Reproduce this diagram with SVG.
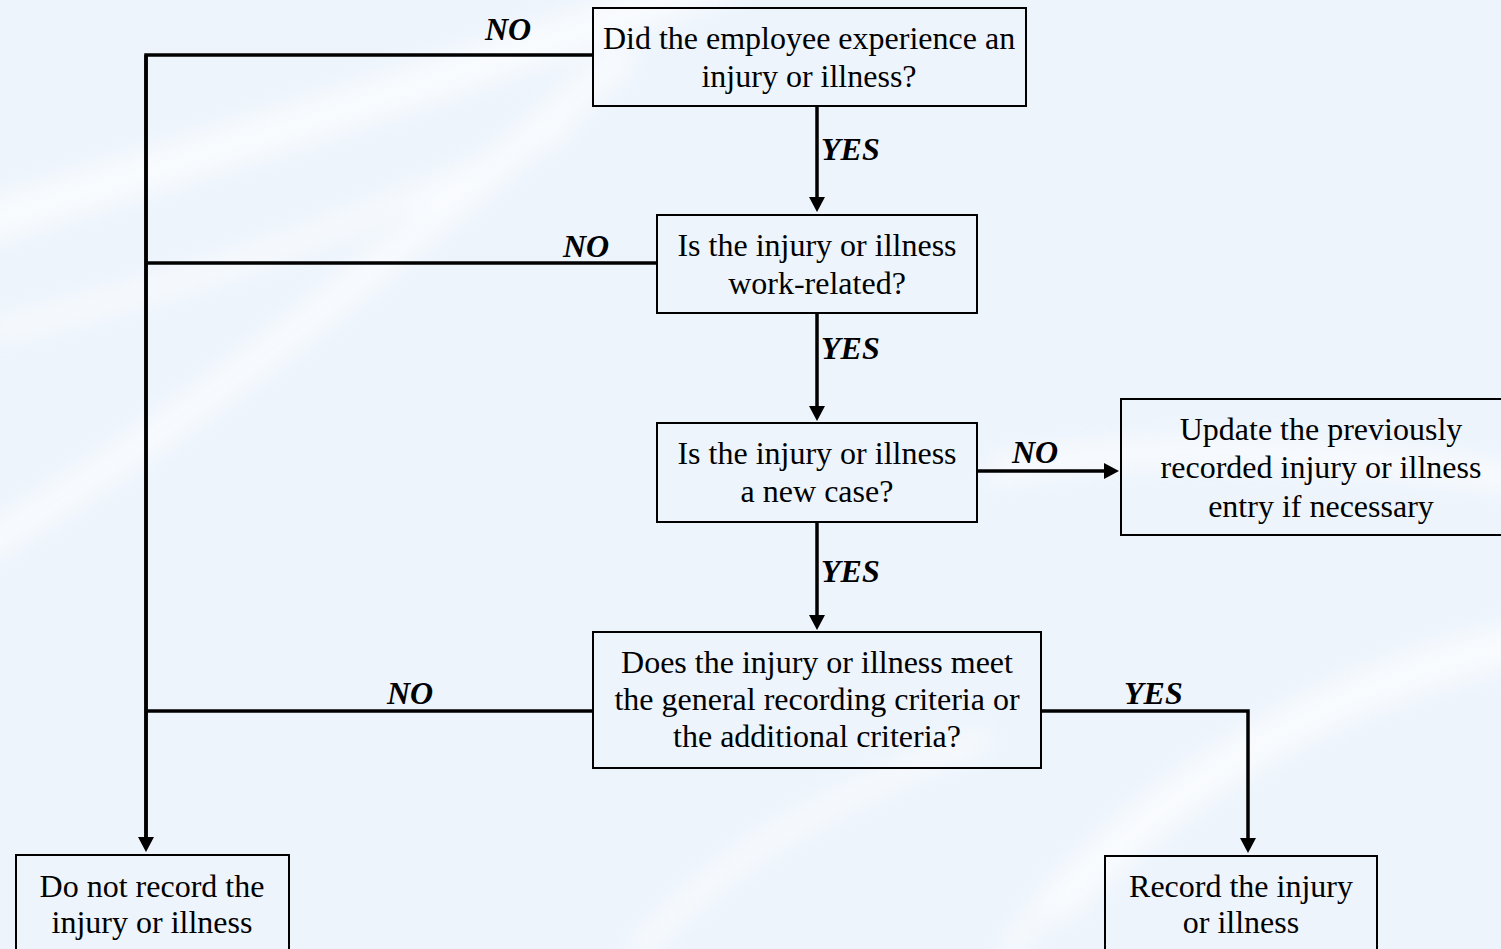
<svg xmlns="http://www.w3.org/2000/svg" width="1501" height="949" viewBox="0 0 1501 949">
<style>
.box{fill:none;stroke:#000;stroke-width:2}
.t{font-family:"Liberation Serif","Times New Roman",serif;font-size:32px;fill:#000;text-anchor:middle}
.lbl{font-family:"Liberation Serif","Times New Roman",serif;font-size:32px;font-weight:bold;font-style:italic;fill:#000}
.c{fill:none;stroke:#000;stroke-width:3.5}
.a{marker-end:url(#ah)}
.sw{fill:none;stroke:#fff;stroke-linecap:round}
</style>
<defs>
<marker id="ah" markerUnits="userSpaceOnUse" markerWidth="16" markerHeight="16" refX="5" refY="8" orient="auto">
<path d="M0,0 L15,8 L0,16 z" fill="#000"/>
</marker>
<filter id="blur" x="-20%" y="-20%" width="140%" height="140%"><feGaussianBlur stdDeviation="12"/></filter>
</defs>
<rect width="1501" height="949" fill="#EDF4FC"/>
<g id="background" filter="url(#blur)" opacity="0.7">
<path class="sw" d="M-40,230 C150,170 420,90 720,-20" stroke-width="40"/>
<path class="sw" d="M-40,560 C200,420 400,250 620,60" stroke-width="30"/>
<path class="sw" d="M0,330 C200,280 380,220 560,130" stroke-width="20"/>
<path class="sw" d="M1000,470 C1150,440 1350,450 1520,480" stroke-width="26"/>
<path class="sw" d="M1060,900 C1200,760 1350,680 1530,640" stroke-width="40"/>
<path class="sw" d="M1010,950 C1100,820 1250,720 1420,660" stroke-width="18"/>
<path class="sw" d="M640,949 C720,860 820,800 980,740" stroke-width="20"/>
</g>
<g id="connectors">
<path class="c" d="M592,55 H146 V843"/>
<path class="c a" d="M146,55 V842"/>
<path class="c" d="M657,263 H146"/>
<path class="c" d="M593,711 H146"/>
<path class="c a" d="M817,107 V202"/>
<path class="c a" d="M817,313 V411"/>
<path class="c a" d="M817,522 V620"/>
<path class="c a" d="M977,471 H1109"/>
<path class="c a" d="M1041,711 H1248 V843"/>
<text class="lbl" x="485" y="40">NO</text>
<text class="lbl" x="821" y="160">YES</text>
<text class="lbl" x="563" y="257">NO</text>
<text class="lbl" x="821" y="359">YES</text>
<text class="lbl" x="1012" y="463">NO</text>
<text class="lbl" x="821" y="582">YES</text>
<text class="lbl" x="387" y="704">NO</text>
<text class="lbl" x="1124" y="704">YES</text>
</g>
<g id="n1">
<rect class="box" x="593" y="8" width="433" height="98"/>
<text class="t" x="809" y="49">Did the employee experience an</text>
<text class="t" x="809" y="87">injury or illness?</text>
</g>
<g id="n2">
<rect class="box" x="657" y="215" width="320" height="98"/>
<text class="t" x="817" y="256">Is the injury or illness</text>
<text class="t" x="817" y="294">work-related?</text>
</g>
<g id="n3">
<rect class="box" x="657" y="423" width="320" height="99"/>
<text class="t" x="817" y="464">Is the injury or illness</text>
<text class="t" x="817" y="502">a new case?</text>
</g>
<g id="n4">
<rect class="box" x="1121" y="399" width="390" height="136"/>
<text class="t" x="1321" y="440">Update the previously</text>
<text class="t" x="1321" y="478">recorded injury or illness</text>
<text class="t" x="1321" y="517">entry if necessary</text>
</g>
<g id="n5">
<rect class="box" x="593" y="632" width="448" height="136"/>
<text class="t" x="817" y="673">Does the injury or illness meet</text>
<text class="t" x="817" y="710">the general recording criteria or</text>
<text class="t" x="817" y="747">the additional criteria?</text>
</g>
<g id="n6">
<rect class="box" x="16" y="855" width="273" height="110"/>
<text class="t" x="152" y="897">Do not record the</text>
<text class="t" x="152" y="933">injury or illness</text>
</g>
<g id="n7">
<rect class="box" x="1105" y="856" width="272" height="110"/>
<text class="t" x="1241" y="897">Record the injury</text>
<text class="t" x="1241" y="933">or illness</text>
</g>
</svg>
